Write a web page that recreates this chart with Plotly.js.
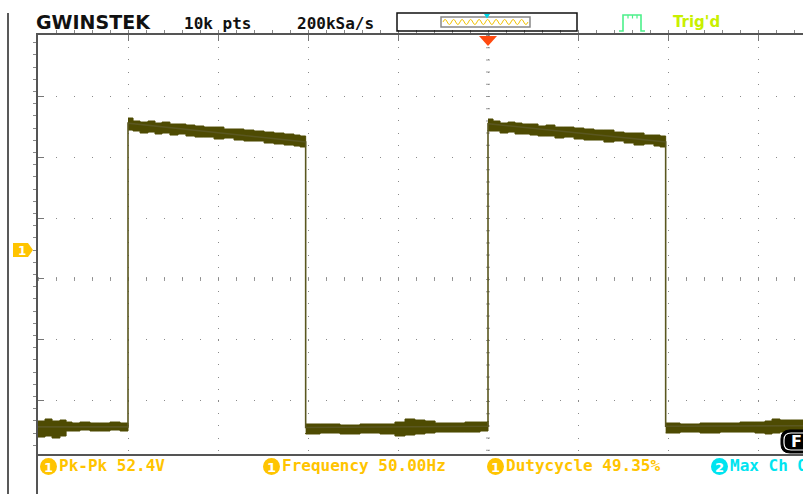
<!DOCTYPE html>
<html><head><meta charset="utf-8">
<script src="https://cdn.plot.ly/plotly-3.0.1.min.js"></script>
<style>html,body{margin:0;padding:0;background:#fff;overflow:hidden}#chart{width:803px;height:494px}</style>
</head><body><div id="chart"></div>
<script>
// ---- data (time in ms, voltage in V) ----
const waveT = [-25, -20, -20, -10.13, -10.13, 0, 0, 9.87, 9.87, 17.5];
const waveV = [-29.0, -29.0, 20.8, 17.7, -29.1, -28.9, 20.7, 17.7, -28.9, -28.8];

const low1T  = [-25, -24.61, -24.22, -23.78, -23.44, -23.11, -22.67, -22.11, -21.56, -21.0, -20.44, -20];
const low1Up = [-28.03, -27.70, -28.03, -27.87, -28.20, -28.36, -28.20, -28.36, -28.36, -28.20, -28.36, -28.36];
const low1Lo = [-30.33, -30.66, -30.49, -30.82, -30.49, -29.67, -29.67, -29.51, -29.67, -29.67, -29.51, -29.67];

const high1T  = [-20, -19.72, -19.33, -18.89, -18.5, -18.11, -17.67, -17.22, -16.78, -16.28, -15.78, -15.22, -14.67, -14.11, -13.56, -13.0, -12.44, -11.89, -11.33, -10.78, -10.44, -10.13];
const high1Up = [21.64, 21.15, 20.98, 21.15, 20.82, 20.98, 20.66, 20.66, 20.49, 20.33, 20.16, 20.16, 19.84, 19.84, 19.67, 19.51, 19.34, 19.18, 19.02, 18.85, 18.69, 18.52];
const high1Lo = [19.67, 19.67, 19.51, 19.18, 19.34, 19.02, 19.18, 18.85, 19.02, 18.69, 18.52, 18.52, 18.20, 18.36, 18.03, 17.87, 17.87, 17.54, 17.38, 17.21, 17.05, 16.89];

const low2T  = [-10.13, -9.33, -8.22, -7.11, -6.0, -5.17, -4.61, -4.06, -3.5, -2.94, -2.11, -1.28, -0.44, 0];
const low2Up = [-28.52, -28.52, -28.69, -28.52, -28.52, -28.20, -27.70, -27.87, -28.03, -28.36, -28.36, -28.20, -28.20, -28.03];
const low2Lo = [-30.00, -30.16, -30.00, -30.16, -30.00, -30.16, -30.49, -30.33, -30.16, -30.00, -29.84, -29.84, -29.84, -29.67];

const high2T  = [0, 0.28, 0.67, 1.11, 1.5, 1.89, 2.33, 2.78, 3.22, 3.72, 4.22, 4.78, 5.33, 5.89, 6.44, 7.0, 7.56, 8.11, 8.67, 9.22, 9.56, 9.87];
const high2Up = [21.48, 21.15, 20.82, 20.98, 20.82, 20.66, 20.66, 20.33, 20.49, 20.16, 20.16, 20.00, 19.84, 19.67, 19.67, 19.34, 19.18, 19.18, 18.85, 18.85, 18.69, 18.52];
const high2Lo = [19.67, 19.51, 19.51, 19.18, 19.34, 19.02, 19.02, 18.85, 18.69, 18.69, 18.36, 18.52, 18.20, 18.03, 18.03, 17.70, 17.87, 17.54, 17.21, 17.38, 17.05, 16.89];

const low3T  = [9.87, 10.67, 11.78, 12.89, 14.0, 14.83, 15.39, 15.78, 16.22, 16.78, 17.5];
const low3Up = [-28.36, -28.52, -28.36, -28.36, -28.20, -28.20, -28.03, -27.70, -27.87, -27.87, -28.03];
const low3Lo = [-30.00, -30.00, -29.84, -30.00, -29.84, -29.84, -30.00, -30.16, -30.00, -29.84, -29.84];

const headerTexts = ["10k pts", "200kSa/s"];
const measLabels = ["Pk-Pk 52.4V", "Frequency 50.00Hz", "Dutycycle 49.35%"];
const ch2Label = "Max Ch Off";

// ---- layout helpers (pixel -> paper) ----
const L = 38, T = 35, W = 765, H = 419;
const px = x => (x - L) / W;
const py = y => (T + H - y) / H;
const P = (x, y) => px(x).toFixed(5) + ',' + py(y).toFixed(5);

const WAVE = '#4e4b02';
function band(t, up, lo) {
  return {x: t.concat(t.slice().reverse()), y: up.concat(lo.slice().reverse()),
    mode: 'lines', fill: 'toself', fillcolor: WAVE,
    line: {color: WAVE, width: 1, shape: 'hv'}, hoverinfo: 'skip', showlegend: false};
}
const traces = [
  band(low1T, low1Up, low1Lo), band(high1T, high1Up, high1Lo),
  band(low2T, low2Up, low2Lo), band(high2T, high2Up, high2Lo),
  band(low3T, low3Up, low3Lo),
  {x: waveT, y: waveV, mode: 'lines', line: {color: '#5a5720', width: 1.6}, hoverinfo: 'skip', showlegend: false}
];

// sine icon in the header memory bar
let sine = 'M' + P(443, 22);
for (let i = 0, x = 443; x < 527; i++, x += 4.25) {
  const dy = (i % 2 === 0) ? -5 : 5;
  sine += ' Q' + P(x + 2.125, 22 + dy) + ' ' + P(x + 4.25, 22);
}

const shapes = [
  {type: 'line', xref: 'x', yref: 'paper', x0: 0, x1: 0, y0: 1, y1: 0, line: {color: '#9a9a9a', width: 4, dash: '1px,11.2px'}, layer: 'below'},
  {type: 'line', xref: 'paper', yref: 'y', x0: 0, x1: 1, y0: -4.75, y1: -4.75, line: {color: '#9a9a9a', width: 4, dash: '1px,17px'}, layer: 'below'},
  {type: 'line', xref: 'paper', yref: 'paper', x0: px(8), x1: px(8), y0: py(13), y1: py(494), line: {color: '#222', width: 1.5}},
  {type: 'line', xref: 'paper', yref: 'paper', x0: px(37), x1: px(37), y0: py(454), y1: py(494), line: {color: '#555', width: 2}},
  {type: 'path', xref: 'paper', yref: 'paper', path: 'M' + P(479, 36) + ' L' + P(497, 36) + ' L' + P(488, 46) + ' Z', fillcolor: '#ff4a10', line: {width: 0}},
  {type: 'path', xref: 'paper', yref: 'paper', path: 'M' + P(13, 243) + ' L' + P(28, 243) + ' L' + P(33, 250) + ' L' + P(28, 257) + ' L' + P(13, 257) + ' Z', fillcolor: '#ffc400', line: {width: 0}},
  {type: 'rect', xref: 'paper', yref: 'paper', x0: px(397), x1: px(577), y0: py(31), y1: py(13), line: {color: '#111', width: 1.5}},
  {type: 'rect', xref: 'paper', yref: 'paper', x0: px(441), x1: px(530), y0: py(27), y1: py(17), line: {color: '#888', width: 1.5}},
  {type: 'path', xref: 'paper', yref: 'paper', path: sine, line: {color: '#f2c200', width: 1}},
  {type: 'path', xref: 'paper', yref: 'paper', path: 'M' + P(484, 14) + ' L' + P(490, 14) + ' L' + P(487, 18.5) + ' Z', fillcolor: '#00d8e8', line: {width: 0}},
  {type: 'path', xref: 'paper', yref: 'paper', path: 'M' + P(619, 31) + ' L' + P(623, 31) + ' L' + P(623, 15) + ' L' + P(641, 15) + ' L' + P(641, 31) + ' L' + P(645, 31), line: {color: '#4cf08a', width: 1.6}},
  {type: 'path', xref: 'paper', yref: 'paper', path: 'M' + P(628, 15) + ' L' + P(628, 18.5) + ' M' + P(632.5, 15) + ' L' + P(632.5, 18.5) + ' M' + P(637, 15) + ' L' + P(637, 18.5), line: {color: '#4cf08a', width: 1.2}},
  {type: 'circle', xref: 'paper', yref: 'paper', x0: px(40), x1: px(57), y0: py(475), y1: py(458), fillcolor: '#ffc400', line: {width: 0}},
  {type: 'circle', xref: 'paper', yref: 'paper', x0: px(263), x1: px(280), y0: py(475), y1: py(458), fillcolor: '#ffc400', line: {width: 0}},
  {type: 'circle', xref: 'paper', yref: 'paper', x0: px(487), x1: px(504), y0: py(475), y1: py(458), fillcolor: '#ffc400', line: {width: 0}},
  {type: 'circle', xref: 'paper', yref: 'paper', x0: px(711), x1: px(728), y0: py(475), y1: py(458), fillcolor: '#00e4f0', line: {width: 0}},
  {type: 'path', xref: 'paper', yref: 'paper', path: 'M' + P(790, 430) + ' L' + P(812, 430) + ' L' + P(812, 453) + ' L' + P(790, 453) + ' Q' + P(781, 453) + ' ' + P(781, 444) + ' L' + P(781, 439) + ' Q' + P(781, 430) + ' ' + P(790, 430) + ' Z', fillcolor: '#000', line: {color: '#000', width: 1}},
  {type: 'path', xref: 'paper', yref: 'paper', path: 'M' + P(791, 433) + ' L' + P(812, 433) + ' M' + P(812, 450) + ' L' + P(791, 450) + ' Q' + P(784, 450) + ' ' + P(784, 443) + ' L' + P(784, 440) + ' Q' + P(784, 433) + ' ' + P(791, 433), line: {color: '#fff', width: 1.2}}
];

const mono = 'DejaVu Sans Mono';
function ann(text, x, y, size, color, family, extra) {
  return Object.assign({text: text, xref: 'paper', yref: 'paper', x: px(x), y: py(y), xanchor: 'left', yanchor: 'middle',
    showarrow: false, font: {family: family, size: size, color: color}, borderpad: 0}, extra || {});
}
const annotations = [
  ann('<b>GWINSTEK</b>', 35, 22, 19, '#111', 'DejaVu Sans'),
  ann('<b>' + headerTexts[0] + '</b>', 183, 23, 16, '#111', mono),
  ann('<b>' + headerTexts[1] + '</b>', 296, 23, 16, '#111', mono),
  ann("<b>Trig'd</b>", 672, 22, 15, '#c8f000', 'DejaVu Sans'),
  ann('<b>1</b>', 22, 250.5, 12, '#fff', 'DejaVu Sans', {xanchor: 'center'}),
  ann('<b>1</b>', 48.5, 467, 13, '#fff', 'DejaVu Sans', {xanchor: 'center'}),
  ann('<b>1</b>', 271.5, 467, 13, '#fff', 'DejaVu Sans', {xanchor: 'center'}),
  ann('<b>1</b>', 495.5, 467, 13, '#fff', 'DejaVu Sans', {xanchor: 'center'}),
  ann('<b>2</b>', 719.5, 467, 13, '#fff', 'DejaVu Sans', {xanchor: 'center'}),
  ann('<b>' + measLabels[0] + '</b>', 58, 466, 16, '#ffc400', mono),
  ann('<b>' + measLabels[1] + '</b>', 281, 466, 16, '#ffc400', mono),
  ann('<b>' + measLabels[2] + '</b>', 505, 466, 16, '#ffc400', mono),
  ann('<b>' + ch2Label + '</b>', 729, 466, 16, '#00e4f0', mono),
  ann('<b>F</b>', 790, 441.5, 16, '#fff', 'DejaVu Sans')
];

const layout = {
  width: 803, height: 494,
  margin: {l: L, r: 0, t: T, b: 494 - T - H, pad: 0},
  paper_bgcolor: '#fff', plot_bgcolor: '#fff',
  showlegend: false,
  xaxis: {range: [-25, 17.5], side: 'top', showline: true, linecolor: '#555', linewidth: 2, mirror: true,
    ticks: 'inside', ticklen: 6, tickwidth: 1, tickcolor: '#777', tick0: 0, dtick: 5,
    minor: {dtick: 1, ticklen: 3, tickcolor: '#888', tickwidth: 1, showgrid: false},
    showticklabels: false, showgrid: true, gridcolor: '#8a8a8a', gridwidth: 1, griddash: '1px,11.2px',
    zeroline: false, fixedrange: true},
  yaxis: {range: [-33.44, 35.25], showline: true, linecolor: '#555', linewidth: 2,
    ticks: 'inside', ticklen: 6, tickwidth: 1, tickcolor: '#777', tick0: 5.25, dtick: 10,
    minor: {dtick: 2, ticklen: 3, tickcolor: '#888', tickwidth: 1, showgrid: false},
    showticklabels: false, showgrid: true, gridcolor: '#8a8a8a', gridwidth: 1, griddash: '1px,17px',
    zeroline: false, fixedrange: true},
  shapes: shapes,
  annotations: annotations
};
Plotly.newPlot('chart', traces, layout, {displayModeBar: false, staticPlot: true});
</script></body></html>
